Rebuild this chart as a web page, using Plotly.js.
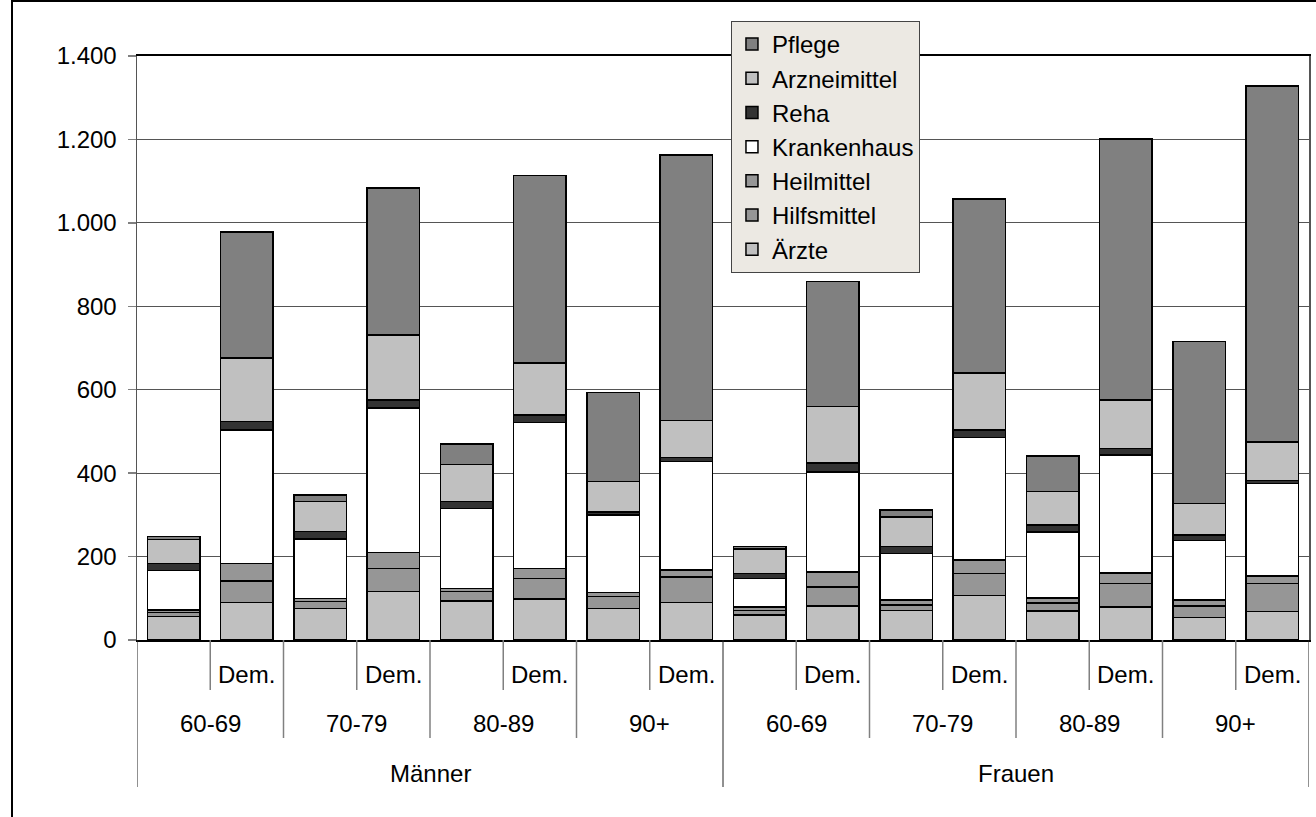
<!DOCTYPE html>
<html>
<head>
<meta charset="utf-8">
<script src="https://cdn.plot.ly/plotly-3.0.1.min.js"></script>
<style>
  html, body { margin: 0; padding: 0; background: #fff; overflow: hidden; }
  #chart { width: 1316px; height: 817px; }
  #frame { position: absolute; left: 11px; top: 0; right: -20px; bottom: -20px;
           border-left: 2px solid #000; border-top: 2px solid #000; pointer-events: none; }
</style>
</head>
<body>
<div id="chart"></div>
<div id="frame"></div>
<script>
// Category levels (outer to inner)
const sexes = ['Männer', 'Frauen'];
const ageBands = ['60-69', '70-79', '80-89', '90+'];
const subGroups = ['', 'Dem.'];

// Cost components per bar, bottom to top of each stack
const aerzte       = [56, 90, 76, 116, 94, 98, 75, 90, 60, 82, 71, 107, 69, 79, 54, 68];
const hilfsmittel  = [10, 52, 16, 56, 22, 50, 29, 61, 11, 45, 13, 52, 20, 57, 28, 67];
const heilmittel   = [6, 41, 8, 38, 8, 24, 10, 17, 8, 36, 12, 33, 12, 25, 14, 19];
const krankenhaus  = [95, 321, 142, 346, 191, 350, 186, 260, 68, 240, 111, 294, 158, 283, 143, 221];
const reha         = [16, 20, 18, 19, 17, 17, 7, 10, 13, 21, 17, 18, 17, 15, 13, 7];
const arzneimittel = [58, 152, 72, 156, 89, 125, 73, 88, 58, 136, 71, 136, 80, 116, 75, 93];
const pflege       = [7, 302, 16, 352, 49, 450, 213, 637, 6, 299, 17, 417, 85, 626, 389, 853];

const seriesNames = ['Ärzte', 'Hilfsmittel', 'Heilmittel', 'Krankenhaus', 'Reha', 'Arzneimittel', 'Pflege'];
const seriesValues = [aerzte, hilfsmittel, heilmittel, krankenhaus, reha, arzneimittel, pflege];
const seriesColors = ['#C0C0C0', '#969696', '#969696', '#FFFFFF', '#333333', '#C0C0C0', '#808080'];

const FONT = 'Liberation Sans, Arial, Helvetica, sans-serif';
const nBars = aerzte.length;
const xIdx = Array.from({length: nBars}, (_, i) => i);

const traces = seriesNames.map((name, k) => ({
  type: 'bar',
  name: name,
  x: xIdx,
  y: seriesValues[k],
  marker: { color: seriesColors[k], line: { color: '#000', width: 1.5 } },
  hoverinfo: 'skip'
}));

// Hierarchical category axis: separators and labels below the plot
const shapes = [];
const annotations = [];
const perSex = ageBands.length * subGroups.length;
const perAge = subGroups.length;

function divider(x, depth, color, width) {
  shapes.push({
    type: 'line', xref: 'x', yref: 'paper', ysizemode: 'pixel', yanchor: 0,
    x0: x, x1: x, y0: 0, y1: -depth,
    line: { color: color, width: width }
  });
}
function label(x, shift, text) {
  annotations.push({
    xref: 'x', yref: 'paper', x: x, y: 0, yshift: shift,
    text: text, showarrow: false, xanchor: 'center', yanchor: 'middle',
    font: { family: FONT, size: 24, color: '#000' }
  });
}

for (let i = 0; i < nBars; i++) {
  const sub = subGroups[i % perAge];
  if (sub) label(i, -34, sub);
  if (i % perAge === perAge - 1 && i < nBars - 1) divider(i - 0.5, 50, '#808080', 1.5);
}
for (let a = 0; a < nBars / perAge; a++) {
  label(a * perAge + (perAge - 1) / 2, -83, ageBands[a % ageBands.length]);
  if (a % ageBands.length !== 0) divider(a * perAge - 0.5, 98, '#808080', 1.5);
}
for (let s = 0; s <= sexes.length; s++) {
  divider(s * perSex - 0.5, 147, '#222', 1);
  if (s < sexes.length) label(s * perSex + (perSex - 1) / 2, -133, sexes[s]);
}
// inner separator before the last "Dem." bar
divider(nBars - 1.5, 50, '#808080', 1.5);

const layout = {
  width: 1316, height: 817,
  margin: { l: 137, r: 7, t: 56, b: 177 },
  paper_bgcolor: '#fff', plot_bgcolor: '#fff',
  font: { family: FONT, size: 24, color: '#000' },
  separators: ',.',
  barmode: 'stack',
  bargap: 0.286,
  showlegend: true,
  legend: {
    x: 0.5068, xanchor: 'left', y: 1.06, yanchor: 'top',
    traceorder: 'reversed',
    bgcolor: '#ECE9E3', bordercolor: '#444', borderwidth: 1,
    font: { family: FONT, size: 24, color: '#000' }
  },
  xaxis: {
    type: 'linear', range: [-0.5, nBars - 0.5],
    showticklabels: false, ticks: '', showgrid: false, zeroline: false,
    showline: true, linecolor: '#000', linewidth: 2, mirror: true
  },
  yaxis: {
    range: [0, 1400], dtick: 200, tick0: 0, tickformat: ',d',
    ticks: 'outside', ticklen: 8, tickcolor: '#808080', tickwidth: 1.5,
    ticklabelstandoff: 6,
    showgrid: true, gridcolor: '#555', gridwidth: 1, zeroline: false,
    showline: true, linecolor: '#555', linewidth: 1.5, mirror: true
  },
  shapes: shapes,
  annotations: annotations
};

Plotly.newPlot('chart', traces, layout, { staticPlot: true, displayModeBar: false });
</script>
</body>
</html>
